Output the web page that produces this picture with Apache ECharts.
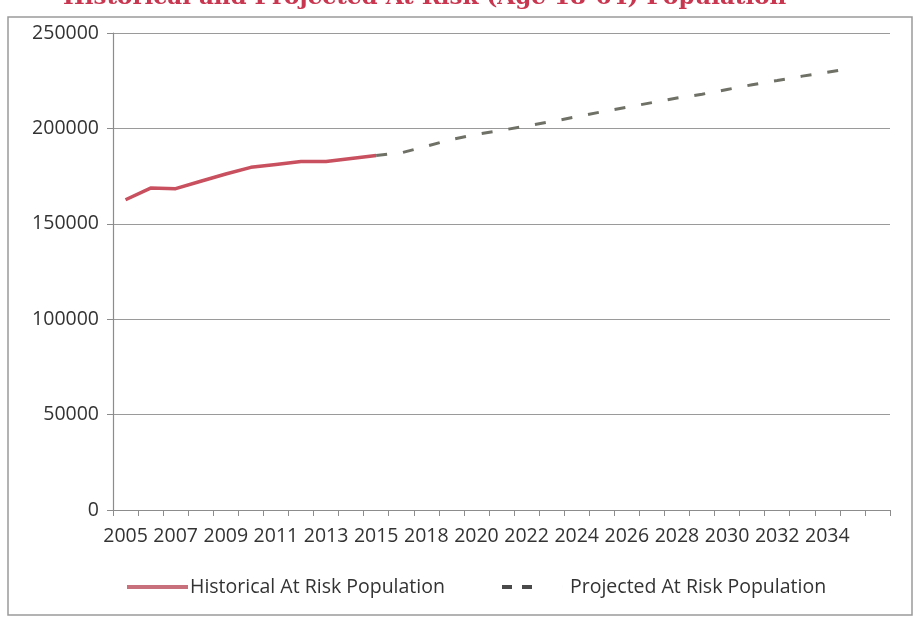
<!DOCTYPE html>
<html>
<head>
<meta charset="utf-8">
<script src="https://cdn.jsdelivr.net/npm/echarts@6/dist/echarts.min.js"></script>
<style>
html,body{margin:0;padding:0;background:#fff;}
#chart{width:915px;height:622px;}
</style>
</head>
<body>
<div id="chart"></div>
<script>
// ---- data ----
var years = ['2005','2006','2007','2008','2009','2010','2011','2012','2013','2014','2015',
  '2016','2018','2019','2020','2021','2022','2023','2024','2025','2026','2027','2028',
  '2029','2030','2031','2032','2033','2034','2035',''];
var historical = [162600,168700,168400,172300,176100,179600,181100,182600,182600,184200,185800,
  null,null,null,null,null,null,null,null,null,null,null,null,null,null,null,null,null,null,null,null];
var projected = [null,null,null,null,null,null,null,null,null,null,185800,
  187200,190600,194200,196900,199000,201300,203600,206100,208700,211100,213500,215900,
  217900,220400,222900,225100,227400,229400,231700,null];
var yTicks = [0,50000,100000,150000,200000,250000];
var titleText = 'Historical and Projected At Risk (Age 18-64) Population';
var seriesNames = ['Historical At Risk Population','Projected At Risk Population'];

var chart = echarts.init(document.getElementById('chart'), null, {renderer:'canvas'});
var font = 'Open Sans';
var option = {
  backgroundColor:'#fff',
  animation:false,
  graphic:[
    {type:'rect', shape:{x:8,y:17,width:904,height:598}, style:{fill:'none',stroke:'#9a9a9a',lineWidth:1.5}, z:-1},
    {type:'text', left:63, top:-13, style:{text:titleText, fill:'#c8364f', font:'bold 23px "DejaVu Serif"'}}
  ],
  grid:{left:113, right:25, top:33, bottom:112, containLabel:false},
  legend:[
    {left:122, top:572, itemWidth:61, itemHeight:4, itemGap:40,
     data:[{name:seriesNames[0], icon:'rect', itemStyle:{color:'#c8707c'}}],
     textStyle:{fontFamily:font, fontSize:19.5, color:'#333', padding:[0,0,0,-3]}},
    {left:497, top:572, itemWidth:61, itemHeight:4, itemGap:40,
     data:[{name:seriesNames[1], icon:'path://M0,0h10v4h-10z M20,0h10v4h-10z M60.99,0h0.01v4h-0.01z',
            itemStyle:{color:'#4a4a4a'}}],
     textStyle:{fontFamily:font, fontSize:19.5, color:'#333', padding:[0,0,0,2]}}
  ],
  xAxis:{
    type:'category', data:years, boundaryGap:true,
    axisLine:{lineStyle:{color:'#8c8c8c', width:1.2}},
    axisTick:{show:true, length:6, interval:0, lineStyle:{color:'#8c8c8c'}},
    axisLabel:{interval:function(i){return i%2===0;}, margin:16, fontFamily:font, fontSize:19.5, color:'#333'},
    splitLine:{show:false}
  },
  yAxis:{
    type:'value', min:yTicks[0], max:yTicks[yTicks.length-1], interval:50000,
    axisLine:{show:true, lineStyle:{color:'#8c8c8c', width:1.2}},
    axisTick:{show:true, inside:false, length:6, lineStyle:{color:'#8c8c8c'}},
    axisLabel:{margin:14, fontFamily:font, fontSize:19.5, color:'#333', formatter:function(v){return String(v);}},
    splitLine:{show:true, lineStyle:{color:'#9a9a9a', width:1.2}}
  },
  series:[
    {name:seriesNames[0], type:'line', data:historical, symbol:'none', connectNulls:false,
     lineStyle:{color:'#c8505f', width:3.5}, itemStyle:{color:'#c8505f'}},
    {name:seriesNames[1], type:'line', data:projected, symbol:'none', connectNulls:false,
     lineStyle:{color:'#6f7066', width:3, type:[11,16]}, itemStyle:{color:'#6f7066'}}
  ]
};
chart.setOption(option);
</script>
</body>
</html>
